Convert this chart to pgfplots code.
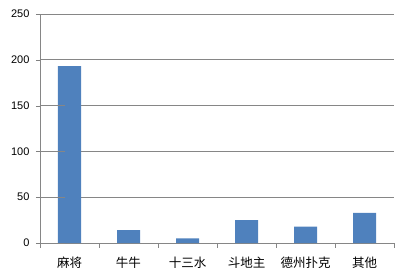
\documentclass[border=0pt]{standalone}
\usepackage{pgfplots}
\pgfplotsset{compat=1.18}
\usepackage{fontspec}
\setmainfont{Liberation Sans}
\newfontfamily\cjk{Noto Sans CJK SC}
\definecolor{barblue}{HTML}{4F81BD}
\definecolor{axisgray}{HTML}{868686}
\begin{document}
\begin{tikzpicture}[x=1pt,y=1pt]
\useasboundingbox (-40,-36) rectangle (369,243);
\begin{axis}[
  at={(0,0)}, anchor=south west,
  scale only axis,
  width=354pt, height=229pt,
  xmin=-0.5, xmax=5.5,
  ymin=0, ymax=250,
  ytick={0,50,100,150,200,250},
  axis x line=bottom, axis y line=left,
  axis line style={axisgray, line width=0.8pt, -},
  ymajorgrids,
  grid style={axisgray, line width=0.8pt},
  xtick={0,1,2,3,4,5},
  xticklabels={麻将,牛牛,十三水,斗地主,德州扑克,其他},
  xticklabel style={font=\cjk\fontsize{12.5}{13}\selectfont, yshift=-6pt},
  major x tick style={draw=none},
  minor xtick={-0.5,0.5,1.5,2.5,3.5,4.5,5.5},
  minor x tick style={draw=axisgray, line width=0.8pt},
  minor tick length=4.5pt,
  tick align=outside,
  major tick length=4pt,
  yticklabel style={font=\fontsize{11}{12}\selectfont, xshift=-3pt},
  /pgf/number format/assume math mode=true,
  ybar, bar width=23pt,
  clip=false,
]
\addplot[fill=barblue, draw=none] coordinates {(0,193) (1,14) (2,5) (3,25) (4,18) (5,33)};
% short outward tick marks on the value axis
\pgfplotsinvokeforeach{0,50,100,150,200,250}{
  \draw[axisgray, line width=0.8pt] (axis cs:-0.5,#1) -- ++(-4pt,0);
}
\end{axis}
\end{tikzpicture}
\end{document}
